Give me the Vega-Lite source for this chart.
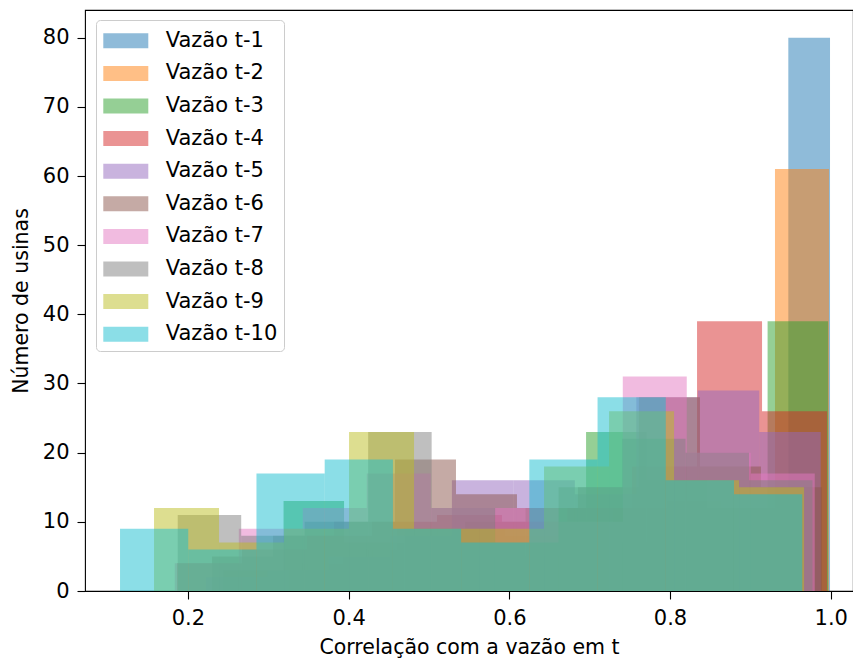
{
  "$schema": "https://vega.github.io/schema/vega-lite/v6.json",
  "width": 768,
  "height": 581,
  "autosize": {"type": "none"},
  "padding": {"left": 85, "top": 10, "right": 0, "bottom": 68},
  "background": "white",
  "config": {
    "font": "DejaVu Sans",
    "view": {"stroke": "#000000", "strokeWidth": 1.1},
    "axis": {
      "grid": false,
      "domain": false,
      "tickColor": "#000000",
      "tickWidth": 1.1,
      "tickSize": 8,
      "labelColor": "#000000",
      "titleColor": "#000000",
      "labelFontSize": 21,
      "titleFontSize": 20.5,
      "titleFontWeight": "normal",
      "labelPadding": 8
    }
  },
  "data": {
    "values": [
      {"s": "Vazão t-1", "x0": 0.4801, "x1": 0.5320, "n": 7},
      {"s": "Vazão t-1", "x0": 0.5320, "x1": 0.5839, "n": 5},
      {"s": "Vazão t-1", "x0": 0.5839, "x1": 0.6358, "n": 5},
      {"s": "Vazão t-1", "x0": 0.6358, "x1": 0.6877, "n": 5},
      {"s": "Vazão t-1", "x0": 0.6877, "x1": 0.7396, "n": 6},
      {"s": "Vazão t-1", "x0": 0.7396, "x1": 0.7915, "n": 7},
      {"s": "Vazão t-1", "x0": 0.7915, "x1": 0.8434, "n": 8},
      {"s": "Vazão t-1", "x0": 0.8434, "x1": 0.8953, "n": 9},
      {"s": "Vazão t-1", "x0": 0.8953, "x1": 0.9472, "n": 12},
      {"s": "Vazão t-1", "x0": 0.9472, "x1": 0.9991, "n": 80},
      {"s": "Vazão t-2", "x0": 0.3258, "x1": 0.3930, "n": 4},
      {"s": "Vazão t-2", "x0": 0.3930, "x1": 0.4602, "n": 6},
      {"s": "Vazão t-2", "x0": 0.4602, "x1": 0.5274, "n": 9},
      {"s": "Vazão t-2", "x0": 0.5274, "x1": 0.5946, "n": 9},
      {"s": "Vazão t-2", "x0": 0.5946, "x1": 0.6618, "n": 8},
      {"s": "Vazão t-2", "x0": 0.6618, "x1": 0.7290, "n": 10},
      {"s": "Vazão t-2", "x0": 0.7290, "x1": 0.7962, "n": 12},
      {"s": "Vazão t-2", "x0": 0.7962, "x1": 0.8634, "n": 13},
      {"s": "Vazão t-2", "x0": 0.8634, "x1": 0.9306, "n": 12},
      {"s": "Vazão t-2", "x0": 0.9306, "x1": 0.9978, "n": 61},
      {"s": "Vazão t-3", "x0": 0.2437, "x1": 0.3190, "n": 3},
      {"s": "Vazão t-3", "x0": 0.3190, "x1": 0.3943, "n": 13},
      {"s": "Vazão t-3", "x0": 0.3943, "x1": 0.4696, "n": 7},
      {"s": "Vazão t-3", "x0": 0.4696, "x1": 0.5449, "n": 9},
      {"s": "Vazão t-3", "x0": 0.5449, "x1": 0.6202, "n": 10},
      {"s": "Vazão t-3", "x0": 0.6202, "x1": 0.6955, "n": 12},
      {"s": "Vazão t-3", "x0": 0.6955, "x1": 0.7708, "n": 23},
      {"s": "Vazão t-3", "x0": 0.7708, "x1": 0.8461, "n": 16},
      {"s": "Vazão t-3", "x0": 0.8461, "x1": 0.9214, "n": 12},
      {"s": "Vazão t-3", "x0": 0.9214, "x1": 0.9967, "n": 39},
      {"s": "Vazão t-4", "x0": 0.1864, "x1": 0.2673, "n": 4},
      {"s": "Vazão t-4", "x0": 0.2673, "x1": 0.3482, "n": 6},
      {"s": "Vazão t-4", "x0": 0.3482, "x1": 0.4291, "n": 8},
      {"s": "Vazão t-4", "x0": 0.4291, "x1": 0.5100, "n": 10},
      {"s": "Vazão t-4", "x0": 0.5100, "x1": 0.5909, "n": 11},
      {"s": "Vazão t-4", "x0": 0.5909, "x1": 0.6718, "n": 10},
      {"s": "Vazão t-4", "x0": 0.6718, "x1": 0.7527, "n": 12},
      {"s": "Vazão t-4", "x0": 0.7527, "x1": 0.8336, "n": 18},
      {"s": "Vazão t-4", "x0": 0.8336, "x1": 0.9145, "n": 39},
      {"s": "Vazão t-4", "x0": 0.9145, "x1": 0.9954, "n": 26},
      {"s": "Vazão t-5", "x0": 0.2225, "x1": 0.2990, "n": 2},
      {"s": "Vazão t-5", "x0": 0.2990, "x1": 0.3755, "n": 3},
      {"s": "Vazão t-5", "x0": 0.3755, "x1": 0.4520, "n": 5},
      {"s": "Vazão t-5", "x0": 0.4520, "x1": 0.5285, "n": 8},
      {"s": "Vazão t-5", "x0": 0.5285, "x1": 0.6050, "n": 16},
      {"s": "Vazão t-5", "x0": 0.6050, "x1": 0.6815, "n": 16},
      {"s": "Vazão t-5", "x0": 0.6815, "x1": 0.7580, "n": 14},
      {"s": "Vazão t-5", "x0": 0.7580, "x1": 0.8345, "n": 28},
      {"s": "Vazão t-5", "x0": 0.8345, "x1": 0.9110, "n": 29},
      {"s": "Vazão t-5", "x0": 0.9110, "x1": 0.9875, "n": 23},
      {"s": "Vazão t-6", "x0": 0.2300, "x1": 0.3059, "n": 5},
      {"s": "Vazão t-6", "x0": 0.3059, "x1": 0.3818, "n": 8},
      {"s": "Vazão t-6", "x0": 0.3818, "x1": 0.4577, "n": 10},
      {"s": "Vazão t-6", "x0": 0.4577, "x1": 0.5336, "n": 19},
      {"s": "Vazão t-6", "x0": 0.5336, "x1": 0.6095, "n": 14},
      {"s": "Vazão t-6", "x0": 0.6095, "x1": 0.6854, "n": 12},
      {"s": "Vazão t-6", "x0": 0.6854, "x1": 0.7613, "n": 15},
      {"s": "Vazão t-6", "x0": 0.7613, "x1": 0.8372, "n": 28},
      {"s": "Vazão t-6", "x0": 0.8372, "x1": 0.9131, "n": 18},
      {"s": "Vazão t-6", "x0": 0.9131, "x1": 0.9890, "n": 15},
      {"s": "Vazão t-7", "x0": 0.1836, "x1": 0.2633, "n": 4},
      {"s": "Vazão t-7", "x0": 0.2633, "x1": 0.3429, "n": 9},
      {"s": "Vazão t-7", "x0": 0.3429, "x1": 0.4226, "n": 12},
      {"s": "Vazão t-7", "x0": 0.4226, "x1": 0.5022, "n": 17},
      {"s": "Vazão t-7", "x0": 0.5022, "x1": 0.5819, "n": 12},
      {"s": "Vazão t-7", "x0": 0.5819, "x1": 0.6615, "n": 12},
      {"s": "Vazão t-7", "x0": 0.6615, "x1": 0.7412, "n": 10},
      {"s": "Vazão t-7", "x0": 0.7412, "x1": 0.8208, "n": 31},
      {"s": "Vazão t-7", "x0": 0.8208, "x1": 0.9005, "n": 20},
      {"s": "Vazão t-7", "x0": 0.9005, "x1": 0.9801, "n": 17},
      {"s": "Vazão t-8", "x0": 0.1873, "x1": 0.2663, "n": 11},
      {"s": "Vazão t-8", "x0": 0.2663, "x1": 0.3453, "n": 8},
      {"s": "Vazão t-8", "x0": 0.3453, "x1": 0.4243, "n": 10},
      {"s": "Vazão t-8", "x0": 0.4243, "x1": 0.5033, "n": 23},
      {"s": "Vazão t-8", "x0": 0.5033, "x1": 0.5823, "n": 12},
      {"s": "Vazão t-8", "x0": 0.5823, "x1": 0.6613, "n": 7},
      {"s": "Vazão t-8", "x0": 0.6613, "x1": 0.7403, "n": 15},
      {"s": "Vazão t-8", "x0": 0.7403, "x1": 0.8193, "n": 22},
      {"s": "Vazão t-8", "x0": 0.8193, "x1": 0.8983, "n": 20},
      {"s": "Vazão t-8", "x0": 0.8983, "x1": 0.9773, "n": 16},
      {"s": "Vazão t-9", "x0": 0.1578, "x1": 0.2387, "n": 12},
      {"s": "Vazão t-9", "x0": 0.2387, "x1": 0.3196, "n": 7},
      {"s": "Vazão t-9", "x0": 0.3196, "x1": 0.4005, "n": 9},
      {"s": "Vazão t-9", "x0": 0.4005, "x1": 0.4814, "n": 23},
      {"s": "Vazão t-9", "x0": 0.4814, "x1": 0.5623, "n": 9},
      {"s": "Vazão t-9", "x0": 0.5623, "x1": 0.6432, "n": 9},
      {"s": "Vazão t-9", "x0": 0.6432, "x1": 0.7241, "n": 18},
      {"s": "Vazão t-9", "x0": 0.7241, "x1": 0.8050, "n": 26},
      {"s": "Vazão t-9", "x0": 0.8050, "x1": 0.8859, "n": 16},
      {"s": "Vazão t-9", "x0": 0.8859, "x1": 0.9668, "n": 15},
      {"s": "Vazão t-10", "x0": 0.1155, "x1": 0.2004, "n": 9},
      {"s": "Vazão t-10", "x0": 0.2004, "x1": 0.2853, "n": 6},
      {"s": "Vazão t-10", "x0": 0.2853, "x1": 0.3702, "n": 17},
      {"s": "Vazão t-10", "x0": 0.3702, "x1": 0.4551, "n": 19},
      {"s": "Vazão t-10", "x0": 0.4551, "x1": 0.5400, "n": 9},
      {"s": "Vazão t-10", "x0": 0.5400, "x1": 0.6249, "n": 7},
      {"s": "Vazão t-10", "x0": 0.6249, "x1": 0.7098, "n": 19},
      {"s": "Vazão t-10", "x0": 0.7098, "x1": 0.7947, "n": 28},
      {"s": "Vazão t-10", "x0": 0.7947, "x1": 0.8796, "n": 16},
      {"s": "Vazão t-10", "x0": 0.8796, "x1": 0.9645, "n": 14}
    ]
  },
  "mark": {"type": "bar", "opacity": 0.5, "strokeWidth": 0},
  "encoding": {
    "x": {
      "field": "x0",
      "type": "quantitative",
      "scale": {"domain": [0.0719, 1.0277], "nice": false, "zero": false},
      "axis": {"values": [0.2, 0.4, 0.6, 0.8, 1.0], "format": ".1f", "title": "Correlação com a vazão em t", "titlePadding": 9}
    },
    "x2": {"field": "x1"},
    "y": {
      "field": "n",
      "type": "quantitative",
      "stack": null,
      "scale": {"domain": [0, 84], "nice": false},
      "axis": {"values": [0, 10, 20, 30, 40, 50, 60, 70, 80], "title": "Número de usinas", "titlePadding": 11}
    },
    "y2": {"datum": 0},
    "color": {
      "field": "s",
      "type": "nominal",
      "sort": null,
      "scale": {
        "domain": ["Vazão t-1", "Vazão t-2", "Vazão t-3", "Vazão t-4", "Vazão t-5", "Vazão t-6", "Vazão t-7", "Vazão t-8", "Vazão t-9", "Vazão t-10"],
        "range": ["#1f77b4", "#ff7f0e", "#2ca02c", "#d62728", "#9467bd", "#8c564b", "#e377c2", "#7f7f7f", "#bcbd22", "#17becf"]
      },
      "legend": {
        "title": null,
        "orient": "none",
        "legendX": 11,
        "legendY": 10,
        "padding": 5.8,
        "fillColor": "rgba(255,255,255,0.8)",
        "strokeColor": "#cccccc",
        "cornerRadius": 4,
        "symbolType": "M-1.5,-0.5H1.5V0.5H-1.5Z",
        "symbolSize": 900,
        "symbolOpacity": 0.5,
        "symbolStrokeWidth": 0,
        "symbolOffset": 9,
        "labelOffset": 24.9,
        "labelFontSize": 21,
        "labelColor": "#000000",
        "rowPadding": 7.6,
        "labelLimit": 300
      }
    }
  }
}
